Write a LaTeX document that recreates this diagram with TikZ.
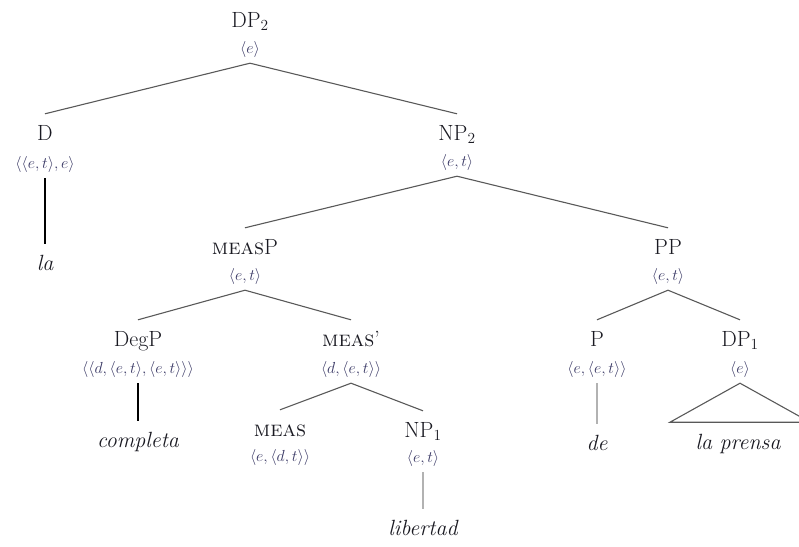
\RequirePackage{fix-cm}
\documentclass[tikz,border=0pt]{standalone}
\usepackage{fontspec}
\definecolor{typecol}{HTML}{3B3A66}
\definecolor{catcol}{HTML}{1A1A22}
\begin{document}
\begin{tikzpicture}[x=1pt, y=-1pt,
    cat/.style={anchor=base, inner sep=0pt, text height=26pt, text depth=3pt, text=catcol, font=\fontsize{22}{26}\selectfont},
    word/.style={cat, font=\fontsize{22}{26}\selectfont\itshape},
    typ/.style={anchor=base, inner sep=0pt, text height=9pt, text depth=10pt, text=typecol, font=\fontsize{16}{19}\selectfont},
    branch/.style={draw=black!65, line width=1.1pt},
    stem/.style={draw=black, line width=1.4pt},
    faint/.style={draw=black!30, line width=1.2pt}]
    \useasboundingbox (0,0) rectangle (799,546);

    \node[cat] (dp2) at (250,27) {DP$_2$};
    \node[typ] (dp2t) at (250,53) {$\langle e\rangle$};
    \node[cat] (d) at (45,140) {D};
    \node[typ] (dt) at (45,168) {$\langle\langle e,t\rangle,e\rangle$};
    \node[word] (la) at (45,270) {la};
    \node[cat] (np2) at (457,140) {NP$_2$};
    \node[typ] (np2t) at (457,166) {$\langle e,t\rangle$};

    \node[cat] (measp) at (245,254) {\textsc{meas}P};
    \node[typ] (measpt) at (245,280) {$\langle e,t\rangle$};
    \node[cat] (pp) at (668,254) {PP};
    \node[typ] (ppt) at (668,280) {$\langle e,t\rangle$};

    \node[cat] (degp) at (138,346) {DegP};
    \node[typ] (degpt) at (138,373) {$\langle\langle d,\langle e,t\rangle,\langle e,t\rangle\rangle\rangle$};
    \node[word] (completa) at (138,447) {completa};
    \node[cat] (measbar) at (351,346) {\textsc{meas}'};
    \node[typ] (measbart) at (351,373) {$\langle d,\langle e,t\rangle\rangle$};
    \node[cat] (meas) at (280,436) {\textsc{meas}};
    \node[typ] (meast) at (280,461) {$\langle e,\langle d,t\rangle\rangle$};
    \node[cat] (np1) at (423,437) {NP$_1$};
    \node[typ] (np1t) at (423,462) {$\langle e,t\rangle$};
    \node[word] (libertad) at (423,535) {libertad};

    \node[cat] (p) at (597,346) {P};
    \node[typ] (pt) at (597,373) {$\langle e,\langle e,t\rangle\rangle$};
    \node[word] (de) at (597,450) {de};
    \node[cat] (dp1) at (740,346) {DP$_1$};
    \node[typ] (dp1t) at (740,373) {$\langle e\rangle$};
    \node[word] (laprensa) at (738,449) {la prensa};

    \draw[branch] (dp2t.south) -- (d.north);
    \draw[branch] (dp2t.south) -- (np2.north);
    \draw[stem] (dt.south) -- (la.north);
    \draw[branch] (np2t.south) -- (measp.north);
    \draw[branch] (np2t.south) -- (pp.north);
    \draw[branch] (measpt.south) -- (degp.north);
    \draw[branch] (measpt.south) -- (measbar.north);
    \draw[stem] (degpt.south) -- (completa.north);
    \draw[branch] (measbart.south) -- (meas.north);
    \draw[branch] (measbart.south) -- (np1.north);
    \draw[faint] (np1t.south) -- (libertad.north);
    \draw[branch] (ppt.south) -- (p.north);
    \draw[branch] (ppt.south) -- (dp1.north);
    \draw[faint] (pt.south) -- (de.north);
    \draw[branch] (dp1t.south) -- ++(-70,39) -- ++(140,0) -- cycle;
\end{tikzpicture}
\end{document}
